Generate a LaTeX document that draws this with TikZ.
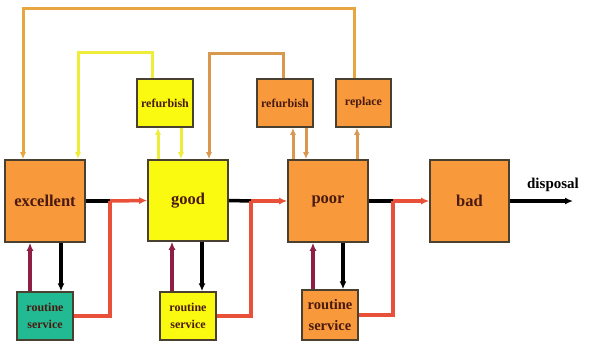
\documentclass[tikz,border=0pt]{standalone}
\usepackage{fontspec}
\setmainfont{Liberation Serif}
\usetikzlibrary{arrows.meta}
\definecolor{boxorange}{HTML}{F89A3C}
\definecolor{boxyellow}{HTML}{FAFA10}
\definecolor{boxteal}{HTML}{22BA92}
\definecolor{boxedge}{HTML}{4A4030}
\definecolor{txtbrown}{HTML}{4A1A10}
\definecolor{linered}{HTML}{E8503A}
\definecolor{linemaroon}{HTML}{8E1E44}
\definecolor{linegold}{HTML}{E8A640}
\definecolor{lineyellow}{HTML}{EDED3A}
\definecolor{linetan}{HTML}{D8984E}
\tikzset{
  statebox/.style={draw=boxedge, line width=1.6pt, fill=boxorange, minimum width=80pt, minimum height=82pt, inner sep=0pt, text=txtbrown, font=\fontsize{16.5}{18}\selectfont\bfseries},
  smallbox/.style={draw=boxedge, line width=1.5pt, minimum width=56pt, minimum height=48pt, inner sep=0pt, text=txtbrown, font=\fontsize{12}{17}\selectfont\bfseries, align=center},
  tip/.style={-{Latex[length=8pt,width=7pt]}},
  thintip/.style={-{Latex[length=7pt,width=6pt]}},
  blackline/.style={draw=black, line width=3.5pt},
  redline/.style={draw=linered, line width=3.5pt},
  maroonline/.style={draw=linemaroon, line width=3.5pt},
  goldline/.style={draw=linegold, line width=3pt},
  yellowline/.style={draw=lineyellow, line width=3pt},
  tanline/.style={draw=linetan, line width=3pt},
}
\begin{document}
\begin{tikzpicture}[x=1pt, y=-1pt]
\useasboundingbox[fill=white] (0,0) rectangle (590,349);
% main state boxes
\node[statebox] (excellent) at (45,201) {excellent};
\node[statebox, fill=boxyellow, minimum height=81pt] (good) at (188,200.5) {good};
\node[statebox] (poor) at (328,201) {poor};
\node[statebox, minimum width=79pt] (bad) at (469.5,201) {bad};
% upper boxes
\node[smallbox, fill=boxyellow] (ref1) at (165,103) {refurbish};
\node[smallbox, fill=boxorange] (ref2) at (285,103) {refurbish};
\node[smallbox, fill=boxorange, minimum width=55pt] (replace) at (363.5,103) {replace};
% routine service boxes
\node[smallbox, fill=boxteal] (rs1) at (45,316) {routine\\service};
\node[smallbox, fill=boxyellow] (rs2) at (188,316) {routine\\service};
\node[smallbox, fill=boxorange, minimum height=50pt, font=\fontsize{14.5}{21}\selectfont\bfseries] (rs3) at (330,315) {routine\\service};
% junctions
\coordinate (j1) at (110,201);
\coordinate (j2) at (251,201);
\coordinate (j3) at (393,201);
\coordinate (disp) at (573,201);
\coordinate (toprow) at (0,8);
\coordinate (yrow) at (0,52);
\coordinate (trow) at (0,53);
% horizontal transitions
\draw[blackline] (excellent.east) -- (j1);
\draw[redline] (rs1.east) -| (j1);
\draw[redline, tip] (j1) -- (good.west);
\draw[blackline] (good.east) -- (j2);
\draw[redline] (rs2.east) -| (j2);
\draw[redline, tip] (j2) -- (poor.west);
\draw[blackline] (poor.east) -- (j3);
\draw[redline] (rs3.east) -| (j3);
\draw[redline, tip] (j3) -- (bad.west);
\draw[blackline, tip] (bad.east) -- (disp);
\node[font=\fontsize{15}{17}\selectfont\bfseries, anchor=base] (disposal) at (553,188) {disposal};
% routine service links
\draw[maroonline, tip] ([xshift=-15pt]excellent.south |- rs1.north) -- ([xshift=-15pt]excellent.south);
\draw[blackline, tip] ([xshift=16pt]excellent.south) -- ([xshift=16pt]excellent.south |- rs1.north);
\draw[maroonline, tip] ([xshift=-16pt]good.south |- rs2.north) -- ([xshift=-16pt]good.south);
\draw[blackline, tip] ([xshift=14pt]good.south) -- ([xshift=14pt]good.south |- rs2.north);
\draw[maroonline, tip] ([xshift=-15pt]poor.south |- rs3.north) -- ([xshift=-15pt]poor.south);
\draw[blackline, tip] ([xshift=15pt]poor.south) -- ([xshift=15pt]poor.south |- rs3.north);
% top loops
\draw[goldline, thintip] ([xshift=-9pt]replace.north) -- ([xshift=-9pt]replace.north |- toprow) -| ([xshift=-22pt]excellent.north);
\draw[yellowline, thintip] ([xshift=-13pt]ref1.north) -- ([xshift=-13pt]ref1.north |- yrow) -| ([xshift=33pt]excellent.north);
\draw[tanline, thintip] ([xshift=-2pt]ref2.north) -- ([xshift=-2pt]ref2.north |- trow) -| ([xshift=21pt]good.north);
% refurbish / replace links
\draw[yellowline, thintip] ([xshift=-30pt]good.north) -- ([xshift=-30pt]good.north |- ref1.south);
\draw[yellowline, thintip] ([xshift=-7pt]good.north |- ref1.south) -- ([xshift=-7pt]good.north);
\draw[tanline, thintip] ([xshift=-35pt]poor.north) -- ([xshift=-35pt]poor.north |- ref2.south);
\draw[tanline, thintip] ([xshift=-22pt]poor.north |- ref2.south) -- ([xshift=-22pt]poor.north);
\draw[tanline, thintip] ([xshift=29pt]poor.north) -- ([xshift=29pt]poor.north |- replace.south);
\end{tikzpicture}
\end{document}
